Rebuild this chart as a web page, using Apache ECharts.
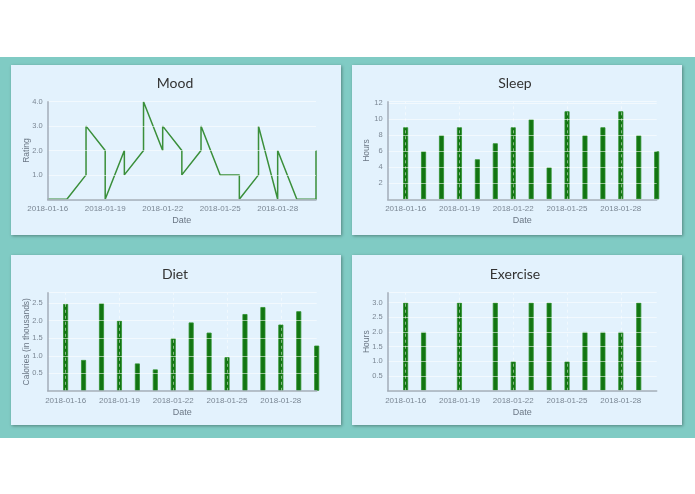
<!DOCTYPE html>
<html>
<head>
<meta charset="utf-8">
<script src="https://cdn.jsdelivr.net/npm/echarts@6/dist/echarts.min.js"></script>
<style>
html,body{margin:0;padding:0;background:#ffffff;}
#chart{width:695px;height:494px;}
</style>
</head>
<body>
<div id="chart"></div>
<script>
// ---- data ----
var moodDates = ['2018-01-16','2018-01-17','2018-01-18','2018-01-18','2018-01-19','2018-01-19','2018-01-20','2018-01-20','2018-01-21','2018-01-21','2018-01-22','2018-01-22','2018-01-23','2018-01-23','2018-01-24','2018-01-24','2018-01-25','2018-01-26','2018-01-26','2018-01-27','2018-01-27','2018-01-28','2018-01-28','2018-01-29','2018-01-30','2018-01-30'];
var moodValues = [0,0,1,3,2,0,2,1,2,4,2,3,2,1,2,3,1,1,0,1,3,0,2,0,0,2];

var sleepDates = ['2018-01-16','2018-01-17','2018-01-18','2018-01-19','2018-01-20','2018-01-21','2018-01-22','2018-01-23','2018-01-24','2018-01-25','2018-01-26','2018-01-27','2018-01-28','2018-01-29','2018-01-30'];
var sleepValues = [9,6,8,9,5,7,9,10,4,11,8,9,11,8,6];

var dietDates = ['2018-01-16','2018-01-17','2018-01-18','2018-01-19','2018-01-20','2018-01-21','2018-01-22','2018-01-23','2018-01-24','2018-01-25','2018-01-26','2018-01-27','2018-01-28','2018-01-29','2018-01-30'];
var dietValues = [2.48,0.88,2.5,2.0,0.78,0.61,1.5,1.95,1.66,0.96,2.19,2.39,1.89,2.27,1.29];

var exerciseDates = ['2018-01-16','2018-01-17','2018-01-19','2018-01-21','2018-01-22','2018-01-23','2018-01-24','2018-01-25','2018-01-26','2018-01-27','2018-01-28','2018-01-29'];
var exerciseValues = [3,2,3,3,1,3,3,1,2,2,2,3];

var tickDates = ['2018-01-16','2018-01-19','2018-01-22','2018-01-25','2018-01-28'];

var titles = ['Mood','Sleep','Diet','Exercise'];
var yNames = ['Rating','Hours','Calories (in thousands)','Hours'];
var xName = 'Date';

// ---- helpers ----
var DAY = 86400000;
function ts(s){ return Date.parse(s); }
function pairs(d, v){ return d.map(function(s,i){ return [ts(s), v[i]]; }); }
function fmtDate(v){ return new Date(v).toISOString().slice(0,10); }
var tickSet = {};
tickDates.forEach(function(s){ tickSet[ts(s)] = true; });

var panels = [[11,65],[352,65],[11,255],[352,255]];
var PW = 330, PH = 170;

var grids = [
  {left:47.7, top:101.7, width:268.3, height:97.6},
  {left:387.7, top:101.7, width:269, height:97.6},
  {left:47.7, top:292.7, width:269, height:98.1},
  {left:387.7, top:292.7, width:269, height:98}
];
var xMins = ['2018-01-16','2018-01-15','2018-01-15','2018-01-15'];
var xMax = '2018-01-30';
var yMax = [4, 12.2, 2.8, 3.34];
var yInt = [1, 2, 0.5, 0.5];
var yDec = [1, 0, 1, 1];
var labelMargin = [5,5,6,6];
var yNameGap = [17,17,17,17];

var labelColor = '#7b8794';
var axisColor = '#a3adb8';
var font = 'Liberation Sans, Arial, sans-serif';

var xAxes = [], yAxes = [];
for (var i=0;i<4;i++){
  (function(i){
    xAxes.push({
      type:'value', gridIndex:i, z:5,
      min: ts(xMins[i]), max: ts(xMax), interval: DAY,
      name: xName, nameLocation:'middle', nameGap: 17, nameMoveOverlap:false,
      nameTextStyle:{color:'#6b7785', fontSize:9, fontFamily:font, verticalAlign:'top'},
      axisLine:{show:true, onZero:false, lineStyle:{color:axisColor, width:1.5}},
      axisTick:{show:false},
      axisLabel:{color:labelColor, fontSize:8, fontFamily:font, margin:labelMargin[i],
        showMinLabel:true, showMaxLabel:true, hideOverlap:false,
        formatter:function(v){ return tickSet[v] ? fmtDate(v) : ''; }},
      splitLine:{show:false}
    });
    yAxes.push({
      type:'value', gridIndex:i, z:5,
      min:0, max:yMax[i], interval:yInt[i],
      name: yNames[i], nameLocation:'middle', nameGap: yNameGap[i], nameRotate:90, nameMoveOverlap:false,
      nameTextStyle:{color:'#6b7785', fontSize:8.5, fontFamily:font},
      axisLine:{show:true, lineStyle:{color:axisColor, width:1.5}},
      axisTick:{show:false},
      axisLabel:{color:labelColor, fontSize:7.5, fontFamily:font, margin:5,
        showMinLabel:false, showMaxLabel: i===0,
        formatter:function(v){ return v===0 ? '' : v.toFixed(yDec[i]); }},
      splitLine:{show:true, lineStyle:{color:'rgba(255,255,255,0.55)', width:1}}
    });
  })(i);
}

var graphics = [{type:'rect', shape:{x:0,y:57,width:695,height:381}, style:{fill:'#80cbc4'}, z:-10}];
panels.forEach(function(p){
  graphics.push({type:'rect', shape:{x:p[0],y:p[1],width:PW,height:PH},
    style:{fill:'#e3f2fd', shadowBlur:3, shadowColor:'rgba(0,0,0,0.35)', shadowOffsetX:1, shadowOffsetY:1}, z:-9});
});

var titleCenters = [[170,71],[510,71],[170,262],[510,262]];
var titleOpts = titles.map(function(t,i){
  return {text:t, left:titleCenters[i][0], top:titleCenters[i][1], textAlign:'center',
    textStyle:{color:'#333', fontSize:14, fontWeight:'normal', fontFamily:'Lato, Open Sans, sans-serif'}};
});

var barStyle = {color:'#127512', borderColor:'#2f922f', borderWidth:0.8};
var vGrid = {
  silent:true, symbol:'none', label:{show:false},
  lineStyle:{color:'rgba(255,255,255,0.5)', width:1, type:[3,3]},
  data: tickDates.map(function(s){ return {xAxis: ts(s)}; })
};

var chart = echarts.init(document.getElementById('chart'), null, {renderer:'canvas'});
chart.setOption({
  animation:false,
  title: titleOpts,
  graphic: graphics,
  grid: grids,
  xAxis: xAxes,
  yAxis: yAxes,
  series: [
    {type:'line', xAxisIndex:0, yAxisIndex:0, data:pairs(moodDates, moodValues), showSymbol:false,
      lineStyle:{color:'#3a8f3a', width:1.5}, z:2},
    {type:'bar', xAxisIndex:1, yAxisIndex:1, data:pairs(sleepDates, sleepValues), barWidth:5, itemStyle:barStyle, z:2, markLine:vGrid},
    {type:'bar', xAxisIndex:2, yAxisIndex:2, data:pairs(dietDates, dietValues), barWidth:5, itemStyle:barStyle, z:2, markLine:vGrid},
    {type:'bar', xAxisIndex:3, yAxisIndex:3, data:pairs(exerciseDates, exerciseValues), barWidth:5, itemStyle:barStyle, z:2, markLine:vGrid}
  ]
});
</script>
</body>
</html>
